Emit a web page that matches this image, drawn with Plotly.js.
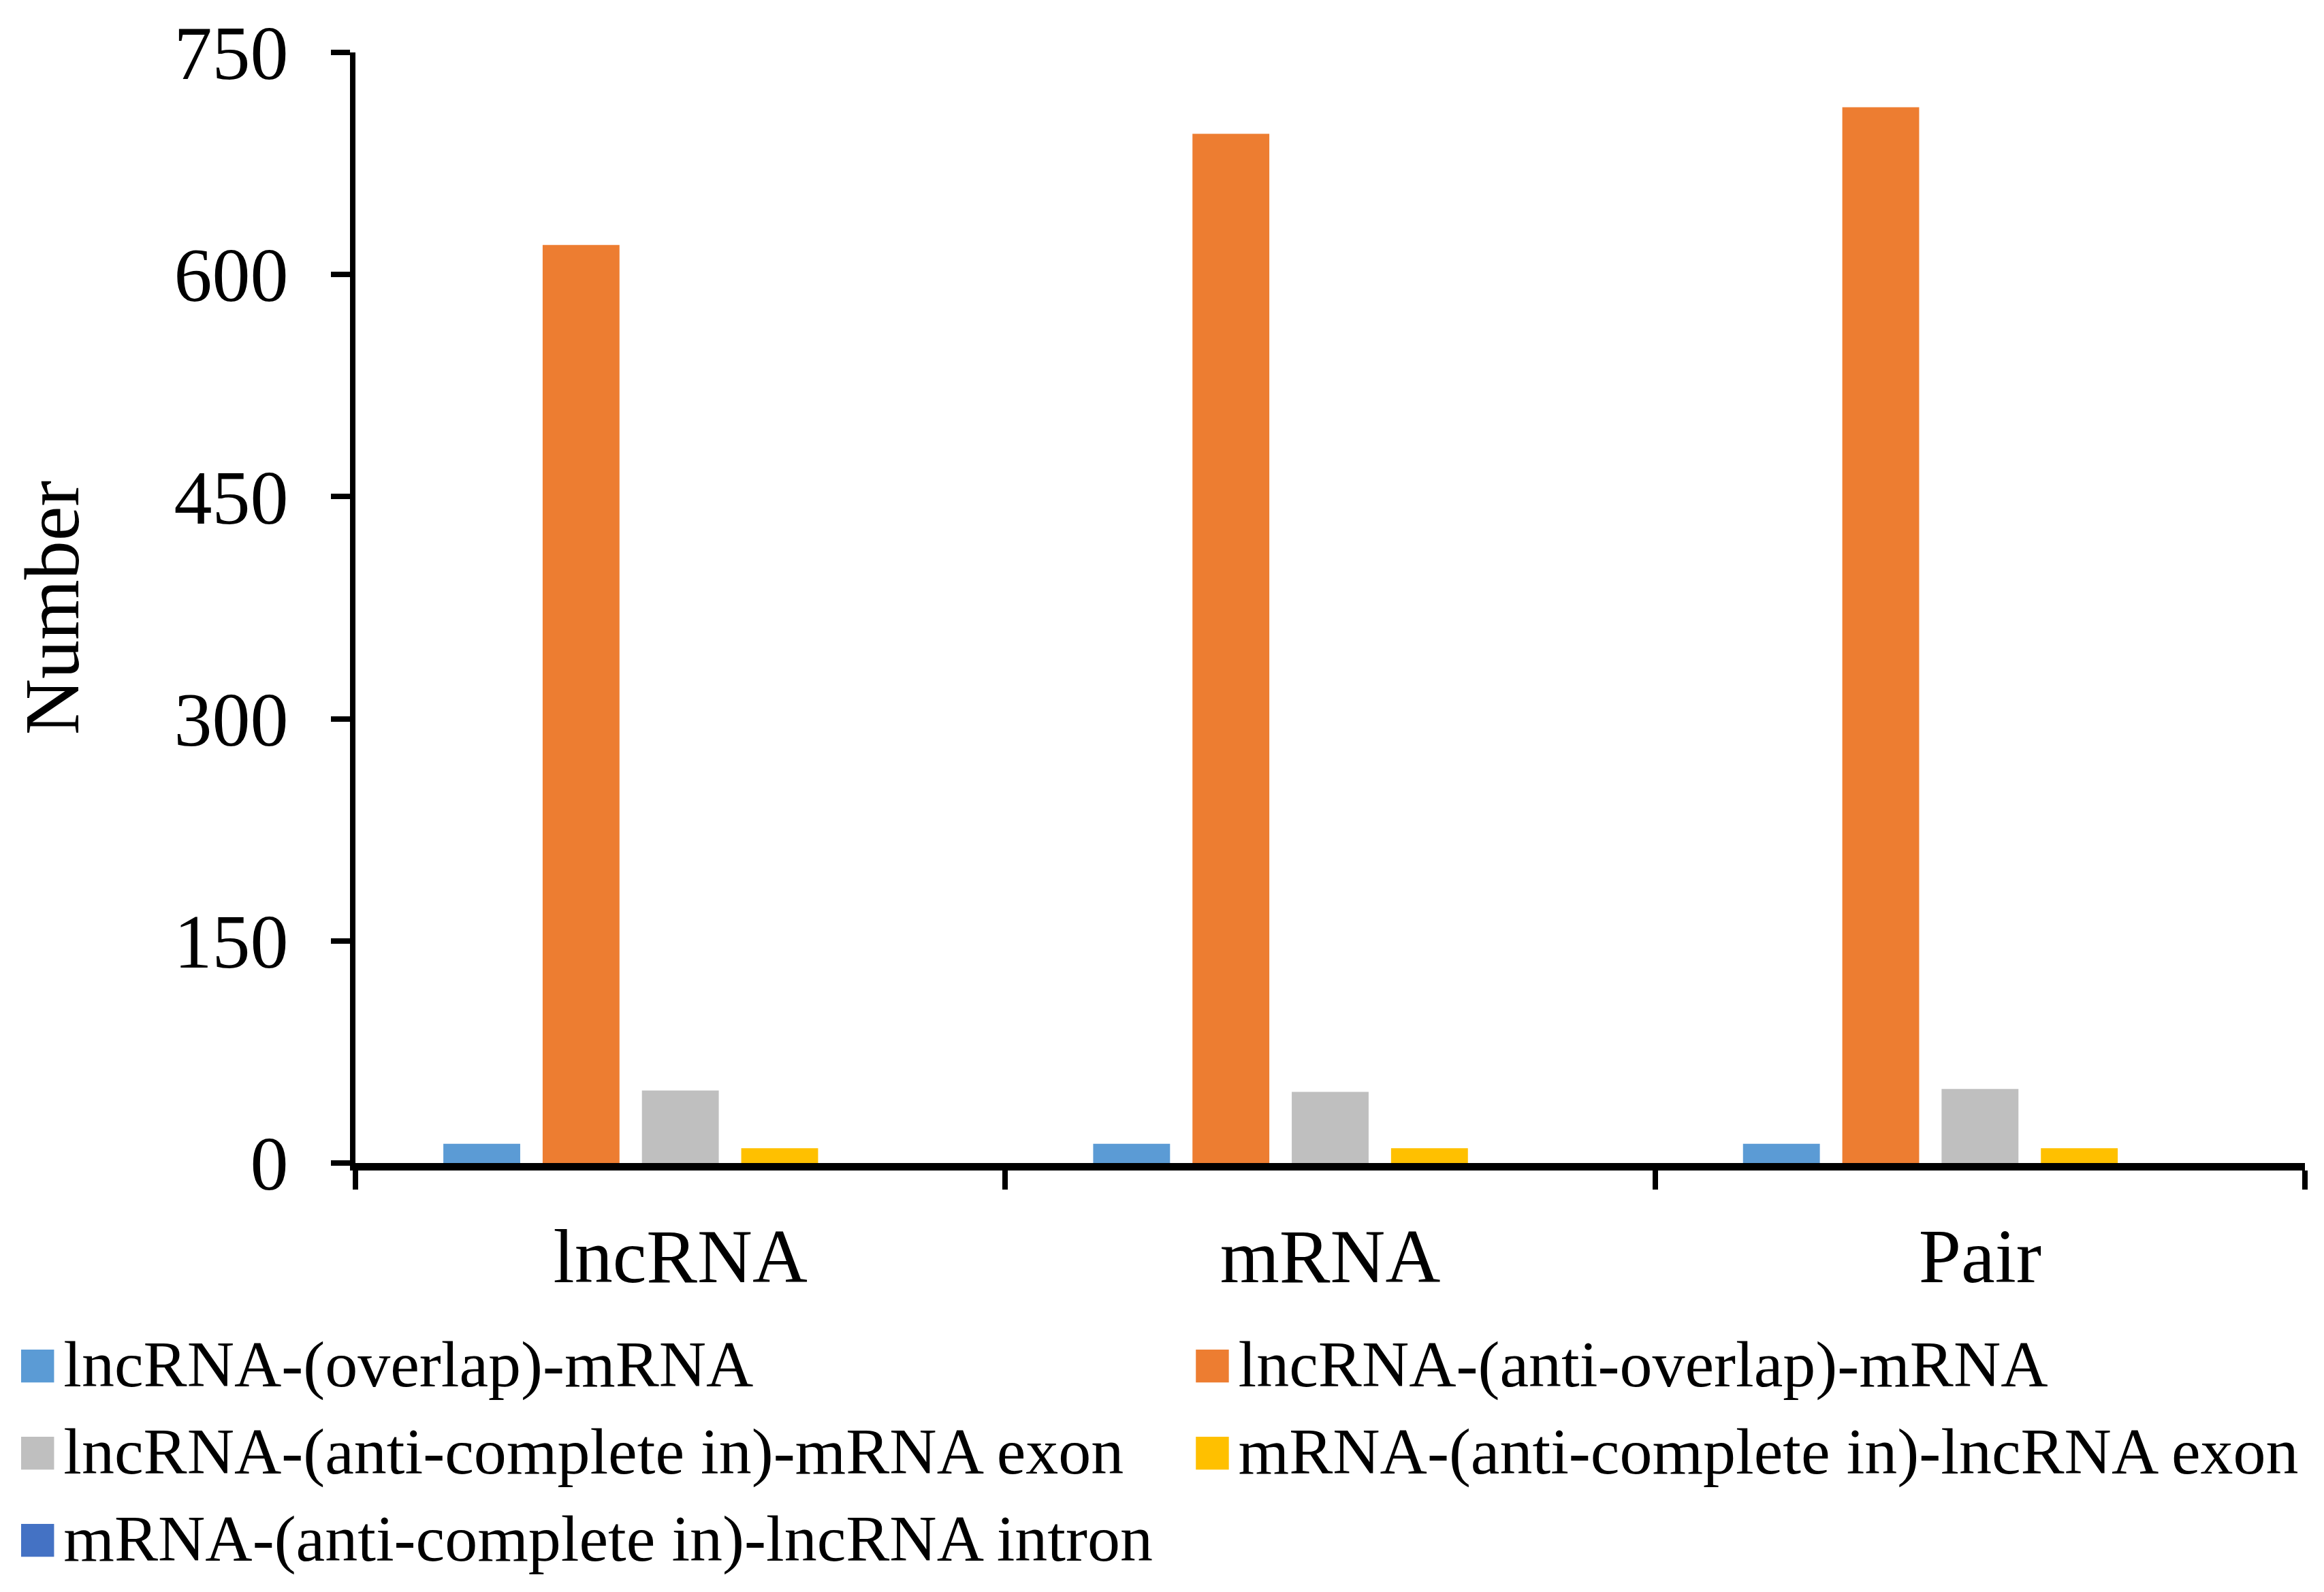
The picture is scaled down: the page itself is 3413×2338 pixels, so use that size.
<!DOCTYPE html>
<html>
<head>
<meta charset="utf-8">
<script src="https://cdn.plot.ly/plotly-3.0.1.min.js"></script>
<style>html,body{margin:0;padding:0;background:#fff;}#chart{width:3413px;height:2338px;}</style>
</head>
<body>
<div id="chart"></div>
<script>
// ---- data ----
const categories = ['lncRNA', 'mRNA', 'Pair'];
const seriesNames = [
  'lncRNA-(overlap)-mRNA',
  'lncRNA-(anti-overlap)-mRNA',
  'lncRNA-(anti-complete in)-mRNA exon',
  'mRNA-(anti-complete in)-lncRNA exon',
  'mRNA-(anti-complete in)-lncRNA intron'
];
const overlapVals = [13, 13, 13];
const antiOverlapVals = [620, 695, 713];
const antiCompleteMrnaExonVals = [49, 48, 50];
const antiCompleteLncExonVals = [10, 10, 10];
const antiCompleteLncIntronVals = [0, 0, 0];
const yTickVals = [0, 150, 300, 450, 600, 750];
const yTickText = ['0', '150', '300', '450', '600', '750'];

const seriesValues = [overlapVals, antiOverlapVals, antiCompleteMrnaExonVals, antiCompleteLncExonVals, antiCompleteLncIntronVals];
const colors = ['#5B9BD5', '#ED7D31', '#BFBFBF', '#FFC000', '#4472C4'];
const legendOf = ['legend', 'legend2', 'legend', 'legend2', 'legend'];

const FONT = '"Liberation Serif", "Times New Roman", serif';

const traces = [];
seriesValues.forEach((vals, i) => {
  traces.push({
    type: 'bar',
    x: categories,
    y: vals,
    name: seriesNames[i],
    marker: {color: colors[i], line: {width: 0}},
    showlegend: false,
    hoverinfo: 'x+y+name'
  });
});
// legend entries (square drawn as text glyph so it can be large), kept on hidden axes
seriesValues.forEach((vals, i) => {
  traces.push({
    type: 'scatter',
    mode: 'none',
    xaxis: 'x2',
    yaxis: 'y2',
    x: [0.5],
    y: [-10],
    name: '<span style="color:' + colors[i] + ';font-size:100px">■</span>\u200A' + seriesNames[i],
    legend: legendOf[i],
    showlegend: true,
    hoverinfo: 'skip'
  });
});

const layout = {
  width: 3413,
  height: 2338,
  paper_bgcolor: '#ffffff',
  plot_bgcolor: '#ffffff',
  margin: {l: 522, r: 28, t: 77, b: 630, pad: 0, autoexpand: false},
  font: {family: FONT, color: '#000000', size: 112},
  barmode: 'group',
  bargap: 0.236,
  bargroupgap: 0.226,
  xaxis: {
    type: 'category',
    showgrid: false,
    zeroline: false,
    showline: true,
    linecolor: '#000000',
    linewidth: 11,
    ticks: 'outside',
    tickson: 'boundaries',
    ticklen: 28,
    tickwidth: 8,
    tickcolor: '#000000',
    ticklabelstandoff: 30,
    tickangle: 0,
    tickfont: {family: FONT, size: 112, color: '#000000'},
    automargin: false,
    fixedrange: true
  },
  yaxis: {
    range: [0, 750],
    tickvals: yTickVals,
    ticktext: yTickText,
    showgrid: false,
    zeroline: false,
    showline: true,
    linecolor: '#000000',
    linewidth: 8,
    ticks: 'outside',
    ticklen: 28,
    tickwidth: 8,
    tickcolor: '#000000',
    ticklabelstandoff: 40,
    tickfont: {family: FONT, size: 112, color: '#000000'},
    title: {text: 'Number', font: {family: FONT, size: 114, color: '#000000'}, standoff: 105},
    automargin: false,
    fixedrange: true
  },
  xaxis2: {visible: false, range: [0, 1], anchor: 'y2', overlaying: 'x', fixedrange: true},
  yaxis2: {visible: false, range: [0, 1], anchor: 'x2', overlaying: 'y', fixedrange: true},
  legend: {
    orientation: 'v',
    xref: 'paper', yref: 'container',
    x: -0.1876, y: 0.1745, xanchor: 'left', yanchor: 'top',
    font: {family: FONT, size: 96, color: '#000000'},
    bgcolor: 'rgba(0,0,0,0)',
    borderwidth: 0,
    itemclick: false, itemdoubleclick: false
  },
  legend2: {
    orientation: 'v',
    xref: 'paper', yref: 'container',
    x: 0.415, y: 0.1745, xanchor: 'left', yanchor: 'top',
    font: {family: FONT, size: 96, color: '#000000'},
    bgcolor: 'rgba(0,0,0,0)',
    borderwidth: 0,
    itemclick: false, itemdoubleclick: false
  },
  showlegend: true
};

Plotly.newPlot('chart', traces, layout, {displayModeBar: false, staticPlot: true});
</script>
</body>
</html>
